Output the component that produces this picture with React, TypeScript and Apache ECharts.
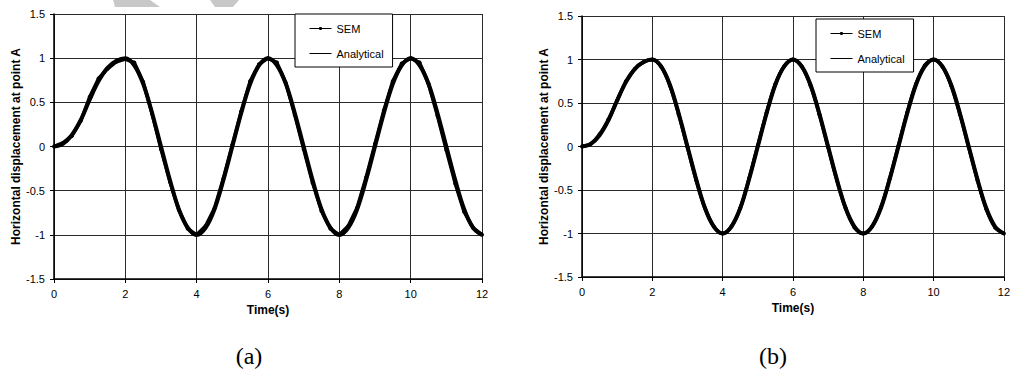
import React, { useEffect, useRef } from "react";
import * as echarts from "echarts";

const TIME = [
  0, 0.25, 0.5, 0.75, 1, 1.25, 1.5, 1.75, 2, 2.25, 2.5, 2.75, 3, 3.25, 3.5, 3.75, 4,
  4.25, 4.5, 4.75, 5, 5.25, 5.5, 5.75, 6, 6.25, 6.5, 6.75, 7, 7.25, 7.5, 7.75, 8,
  8.25, 8.5, 8.75, 9, 9.25, 9.5, 9.75, 10, 10.25, 10.5, 10.75, 11, 11.25, 11.5, 11.75, 12,
];

const ANALYTICAL = [
  0, 0.03, 0.13, 0.3, 0.53, 0.74, 0.89, 0.97, 1, 0.92, 0.71, 0.38, 0, -0.38, -0.71, -0.92, -1,
  -0.92, -0.71, -0.38, 0, 0.38, 0.71, 0.92, 1, 0.92, 0.71, 0.38, 0, -0.38, -0.71, -0.92, -1,
  -0.92, -0.71, -0.38, 0, 0.38, 0.71, 0.92, 1, 0.92, 0.71, 0.38, 0, -0.38, -0.71, -0.92, -1,
];

const SEM_A = [
  0, 0.04, 0.12, 0.29, 0.56, 0.77, 0.88, 0.96, 0.99, 0.95, 0.73, 0.37, -0.03, -0.4, -0.72, -0.93, -1,
  -0.9, -0.7, -0.36, 0.02, 0.4, 0.74, 0.93, 1, 0.95, 0.72, 0.36, -0.03, -0.41, -0.73, -0.93, -1,
  -0.9, -0.69, -0.35, 0.03, 0.41, 0.74, 0.94, 1, 0.95, 0.71, 0.35, -0.04, -0.42, -0.74, -0.92, -1,
];

const SEM_B = [
  0, 0.03, 0.14, 0.31, 0.53, 0.75, 0.89, 0.97, 1, 0.92, 0.7, 0.37, -0.01, -0.39, -0.71, -0.92, -1,
  -0.92, -0.71, -0.37, 0.01, 0.39, 0.72, 0.92, 1, 0.92, 0.7, 0.37, -0.01, -0.39, -0.71, -0.93, -1,
  -0.92, -0.7, -0.37, 0.01, 0.39, 0.72, 0.93, 1, 0.92, 0.7, 0.37, -0.01, -0.39, -0.72, -0.93, -1,
];

const SERIES_NAMES = ["SEM", "Analytical"];
const X_NAME = "Time(s)";
const Y_NAME = "Horizontal displacement at point A";
const CAPTIONS = ["(a)", "(b)"];

const SANS = 'Arial, "Liberation Sans", Helvetica, sans-serif';
const SERIF = '"Times New Roman", "Liberation Serif", serif';

const pairs = (ys: number[]) => TIME.map((t, i) => [t, ys[i]]);

const GRIDS = [
  { left: 54, top: 14, width: 428, height: 265 },
  { left: 582, top: 16, width: 422, height: 261 },
];
const LEGEND_POS = [
  { left: 295, top: 14 },
  { left: 816, top: 19 },
];

export default function App() {
  const ref = useRef<HTMLDivElement>(null);
  useEffect(() => {
    if (!ref.current) return;
    const chart = echarts.init(ref.current, undefined, { renderer: "svg" });

    const xAxis = GRIDS.map((_, gi) => ({
      type: "value",
      gridIndex: gi,
      min: 0,
      max: 12,
      interval: 2,
      name: X_NAME,
      nameLocation: "middle",
      nameGap: 25,
      nameTextStyle: { fontFamily: SANS, fontSize: 12, fontWeight: "bold", color: "#000" },
      axisLine: { show: true, onZero: false, lineStyle: { color: "#000", width: 1.5 } },
      axisTick: { show: true, inside: false, length: 4, lineStyle: { color: "#000" } },
      axisLabel: { fontFamily: SANS, fontSize: 11, color: "#000", margin: 9 },
      splitLine: { show: true, lineStyle: { color: "#2a2a2a", width: 1 } },
    }));

    const yAxis = GRIDS.map((_, gi) => ({
      type: "value",
      gridIndex: gi,
      min: -1.5,
      max: 1.5,
      interval: 0.5,
      name: Y_NAME,
      nameLocation: "middle",
      nameRotate: 90,
      nameGap: 31,
      nameTextStyle: { fontFamily: SANS, fontSize: 12, fontWeight: "bold", color: "#000" },
      axisLine: { show: true, onZero: false, lineStyle: { color: "#000", width: 1.5 } },
      axisTick: { show: true, inside: false, length: 4, lineStyle: { color: "#000" } },
      axisLabel: { fontFamily: SANS, fontSize: 11, color: "#000", margin: 9 },
      splitLine: { show: true, lineStyle: { color: "#2a2a2a", width: 1 } },
    }));

    const semData = [SEM_A, SEM_B];
    const series: any[] = [];
    GRIDS.forEach((_, gi) => {
      series.push({
        type: "line",
        name: SERIES_NAMES[1],
        xAxisIndex: gi,
        yAxisIndex: gi,
        data: pairs(ANALYTICAL),
        smooth: 0.35,
        symbol: "none",
        lineStyle: { color: "#000", width: 4 },
        itemStyle: { color: "#000" },
        z: 3,
      });
      series.push({
        type: "line",
        name: SERIES_NAMES[0],
        xAxisIndex: gi,
        yAxisIndex: gi,
        data: pairs(semData[gi]),
        smooth: gi === 0 ? false : 0.35,
        symbol: "circle",
        symbolSize: 4,
        showSymbol: true,
        lineStyle: { color: "#000", width: 3.5 },
        itemStyle: { color: "#000", borderWidth: 0 },
        z: 4,
      });
    });

    const legend = LEGEND_POS.map((p) => ({
      left: p.left,
      top: p.top,
      orient: "vertical",
      backgroundColor: "#fff",
      borderColor: "#000",
      borderWidth: 1,
      padding: [8, 9, 7, 14],
      itemGap: 12,
      itemWidth: 22,
      itemHeight: 4,
      selectedMode: false,
      textStyle: { fontFamily: SANS, fontSize: 11, color: "#000", lineHeight: 13 },
      lineStyle: { width: 1, color: "#000" },
      itemStyle: { color: "#000", borderWidth: 0 },
      data: [
        { name: SERIES_NAMES[0] },
        {
          name: SERIES_NAMES[1],
          icon: "path://M0,0M0,1.5H22V2.5H0ZM22,4",
          itemStyle: { color: "#000", borderWidth: 0 },
        },
      ],
    }));

    const graphic: any[] = [
      {
        type: "polygon",
        shape: { points: [[113, 0], [150, 0], [160, 7], [115, 7]] },
        style: { fill: "#c8c8c8" },
        silent: true,
      },
      {
        type: "polygon",
        shape: { points: [[210, 0], [239, 0], [233, 7], [215, 7]] },
        style: { fill: "#c8c8c8" },
        silent: true,
      },
      {
        type: "text",
        x: 249,
        y: 356,
        style: {
          text: CAPTIONS[0],
          fontFamily: SERIF,
          fontSize: 24,
          fill: "#000",
          align: "center",
          verticalAlign: "middle",
        },
      },
      {
        type: "text",
        x: 773,
        y: 356,
        style: {
          text: CAPTIONS[1],
          fontFamily: SERIF,
          fontSize: 24,
          fill: "#000",
          align: "center",
          verticalAlign: "middle",
        },
      },
    ];

    chart.setOption({
      animation: false,
      backgroundColor: "#fff",
      grid: GRIDS.map((g) => ({ ...g, containLabel: false })),
      xAxis,
      yAxis,
      legend,
      series,
      graphic,
    });

    return () => chart.dispose();
  }, []);

  return (
    <div
      ref={ref}
      style={{ position: "fixed", left: 0, top: 0, width: 1013, height: 369, background: "#fff" }}
    />
  );
}
